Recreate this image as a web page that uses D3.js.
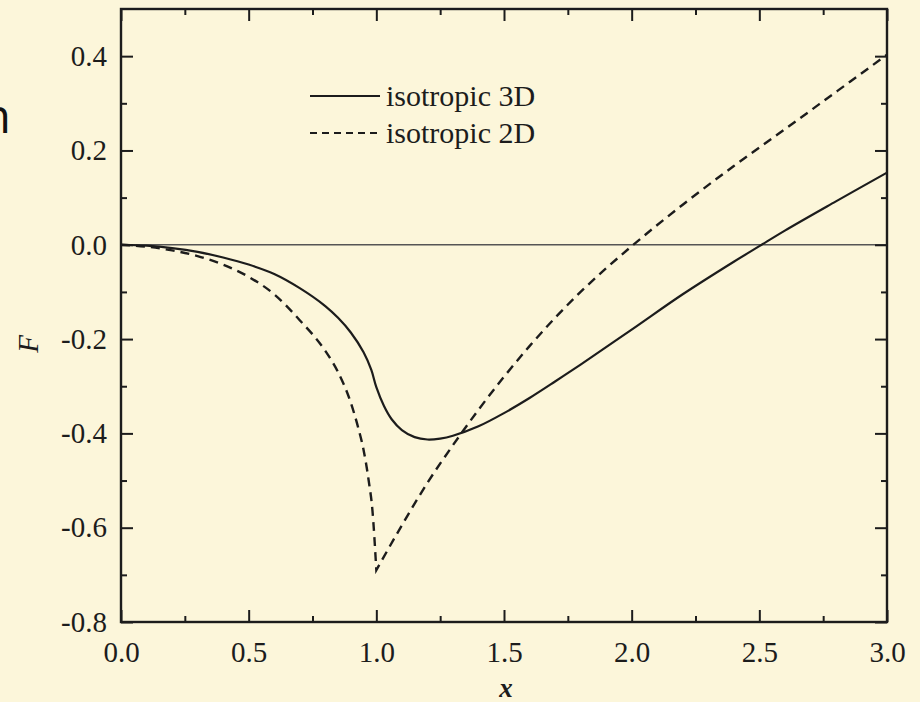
<!DOCTYPE html>
<html><head><meta charset="utf-8">
<script src="https://cdn.jsdelivr.net/npm/d3@7"></script>
<style>html,body{margin:0;padding:0;background:#fcf6da;}svg{display:block;}</style>
</head><body>
<svg id="chart" width="920" height="702"></svg>
<script>
// ---- data ----
const x3D = [0, 0.1, 0.2, 0.3, 0.4, 0.5, 0.6, 0.7, 0.8, 0.85, 0.9, 0.95, 0.98, 1.0, 1.03, 1.06, 1.1, 1.15, 1.2, 1.25, 1.3, 1.4, 1.5, 1.6, 1.7, 1.8, 2.0, 2.2, 2.4, 2.5, 2.6, 2.8, 3.0];
const f3D = [0, -0.002, -0.007, -0.015, -0.027, -0.042, -0.062, -0.092, -0.13, -0.155, -0.186, -0.228, -0.265, -0.302, -0.342, -0.370, -0.393, -0.408, -0.413, -0.411, -0.405, -0.385, -0.357, -0.325, -0.29, -0.254, -0.18, -0.105, -0.036, -0.003, 0.03, 0.092, 0.153];
const x2D = [0, 0.1, 0.2, 0.3, 0.4, 0.5, 0.6, 0.7, 0.8, 0.85, 0.9, 0.93, 0.95, 0.97, 0.985, 1.0, 1.1, 1.2, 1.3, 1.4, 1.5, 1.6, 1.7, 1.8, 1.9, 2.0, 2.2, 2.4, 2.6, 2.8, 3.0];
const f2D = [0, -0.004, -0.012, -0.024, -0.042, -0.068, -0.105, -0.16, -0.225, -0.27, -0.335, -0.39, -0.435, -0.50, -0.565, -0.69, -0.595, -0.505, -0.425, -0.35, -0.28, -0.215, -0.155, -0.10, -0.05, -0.003, 0.085, 0.167, 0.245, 0.324, 0.403];
const seriesNames = ["isotropic 3D", "isotropic 2D"];
const xTicks = [0, 0.5, 1.0, 1.5, 2.0, 2.5, 3.0];
const xMinor = [0.25, 0.75, 1.25, 1.75, 2.25, 2.75];
const yTicks = [-0.8, -0.6, -0.4, -0.2, 0.0, 0.2, 0.4];
const yMinor = [-0.7, -0.5, -0.3, -0.1, 0.1, 0.3];
const xLabel = "x", yLabel = "F";

// ---- layout ----
const L = 121, R = 887, T = 9, B = 622;
const svg = d3.select("#chart");
svg.append("rect").attr("width", 920).attr("height", 702).attr("fill", "#fcf6da");

const x = d3.scaleLinear().domain([0, 3]).range([L, R]);
const y = d3.scaleLinear().domain([-0.8, 0.5]).range([B, T]);
const ink = "#1c1c1c";
const serif = "'Liberation Serif', 'Times New Roman', serif";

// stray slide text at the left edge (cut off in the reference too)
svg.append("text").attr("x", 11).attr("y", 133).attr("text-anchor", "end")
  .attr("font-family", "'Open Sans', sans-serif").attr("font-size", 48).attr("fill", "#111").text("n");

// zero line
svg.append("line").attr("x1", x(0)).attr("x2", x(3)).attr("y1", y(0)).attr("y2", y(0))
  .attr("stroke", "#555").attr("stroke-width", 1.6);

// curves
const line = d3.line().x(d => x(d[0])).y(d => y(d[1])).curve(d3.curveMonotoneX);
const smooth = d3.line().x(d => x(d[0])).y(d => y(d[1])).curve(d3.curveCatmullRom.alpha(0.5));
const d3D = x3D.map((v, i) => [v, f3D[i]]);
const d2Da = x2D.map((v, i) => [v, f2D[i]]).filter(d => d[0] <= 1.0);
const d2Db = x2D.map((v, i) => [v, f2D[i]]).filter(d => d[0] >= 1.0);
svg.append("path").attr("d", smooth(d3D)).attr("fill", "none").attr("stroke", ink).attr("stroke-width", 2.2);
const pathStr = line(d2Da) + line(d2Db).replace(/^M/, "L");
svg.append("path").attr("d", pathStr).attr("fill", "none").attr("stroke", ink)
  .attr("stroke-width", 2.4).attr("stroke-dasharray", "9,6");

// axes (ticks inward on all four sides)
const g = svg.append("g");
const axisStyle = sel => { sel.select(".domain").remove(); sel.selectAll("line").attr("stroke", ink).attr("stroke-width", 2); };
g.append("g").attr("transform", `translate(0,${B})`)
  .call(d3.axisBottom(x).tickValues(xTicks).tickSize(-12).tickPadding(19).tickFormat(d3.format(".1f")))
  .call(axisStyle)
  .call(s => s.selectAll("text").attr("font-family", serif).attr("font-size", 29).attr("fill", ink));
g.append("g").attr("transform", `translate(0,${B})`)
  .call(d3.axisBottom(x).tickValues(xMinor).tickSize(-6).tickFormat("")).call(axisStyle);
g.append("g").attr("transform", `translate(0,${T})`)
  .call(d3.axisTop(x).tickValues(xTicks).tickSize(-12).tickFormat("")).call(axisStyle);
g.append("g").attr("transform", `translate(0,${T})`)
  .call(d3.axisTop(x).tickValues(xMinor).tickSize(-6).tickFormat("")).call(axisStyle);
g.append("g").attr("transform", `translate(${L},0)`)
  .call(d3.axisLeft(y).tickValues(yTicks).tickSize(-12).tickPadding(14).tickFormat(d3.format(".1f")))
  .call(axisStyle)
  .call(s => s.selectAll("text").attr("font-family", serif).attr("font-size", 29).attr("fill", ink)
    .text(d => d3.format(".1f")(d).replace("−", "-")));
g.append("g").attr("transform", `translate(${L},0)`)
  .call(d3.axisLeft(y).tickValues(yMinor).tickSize(-6).tickFormat("")).call(axisStyle);
g.append("g").attr("transform", `translate(${R},0)`)
  .call(d3.axisRight(y).tickValues(yTicks).tickSize(-12).tickFormat("")).call(axisStyle);
g.append("g").attr("transform", `translate(${R},0)`)
  .call(d3.axisRight(y).tickValues(yMinor).tickSize(-6).tickFormat("")).call(axisStyle);

// frame
svg.append("rect").attr("x", L).attr("y", T).attr("width", R - L).attr("height", B - T)
  .attr("fill", "none").attr("stroke", ink).attr("stroke-width", 2.4);

// axis titles
svg.append("text").attr("x", (L + R) / 2 + 2).attr("y", 697).attr("text-anchor", "middle")
  .attr("font-family", serif).attr("font-style", "italic").attr("font-weight", "bold")
  .attr("font-size", 27).attr("fill", ink).text(xLabel);
svg.append("text").attr("transform", `translate(38,${y(-0.21)}) rotate(-90)`).attr("text-anchor", "middle")
  .attr("font-family", serif).attr("font-style", "italic").attr("font-size", 29).attr("fill", ink).text(yLabel);

// legend
const leg = svg.append("g");
const legY = [96, 133];
seriesNames.forEach((name, i) => {
  leg.append("line").attr("x1", 310).attr("x2", 380).attr("y1", legY[i]).attr("y2", legY[i])
    .attr("stroke", ink).attr("stroke-width", i === 0 ? 1.8 : 2.2)
    .attr("stroke-dasharray", i === 0 ? null : "7,5");
  leg.append("text").attr("x", 386).attr("y", legY[i] + 10).attr("font-family", serif)
    .attr("font-size", 30).attr("fill", ink).text(name);
});
</script>
</body></html>
